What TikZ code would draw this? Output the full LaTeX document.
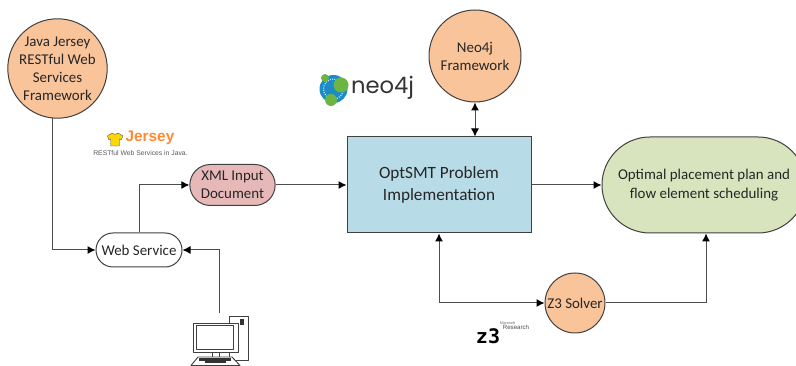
\documentclass[tikz,border=0pt]{standalone}
\usepackage{fontspec}
\setmainfont{Carlito}
\newfontfamily\arimo{Liberation Sans}
\newfontfamily\dejamono{DejaVu Sans Mono}
\newfontfamily\poppinsf{Poppins}
\usetikzlibrary{arrows.meta,shapes.geometric,shapes.misc}
\definecolor{peach}{HTML}{F9C49A}
\definecolor{pinkx}{HTML}{E6B9B8}
\definecolor{bluex}{HTML}{B7DBE7}
\definecolor{greenx}{HTML}{D7E4BD}
\definecolor{edge}{HTML}{404040}
\definecolor{txt}{HTML}{262626}
\definecolor{neoblue}{HTML}{1C8CC8}
\definecolor{neogreen}{HTML}{6CB544}
\definecolor{jerseyor}{HTML}{FF8A33}
\tikzset{
  x=0.75pt,y=-0.75pt,
  box/.style={draw=edge,line width=0.75pt,align=center,inner sep=0pt,text=txt,font=\fontsize{11.2}{13.5}\selectfont},
  circ/.style={box,circle,fill=peach},
  conn/.style={draw=black!70,line width=0.75pt,-{Latex[length=6pt,width=6pt,color=black]}},
  conn2/.style={draw=black!70,line width=0.75pt,{Latex[length=6pt,width=6pt,color=black]}-{Latex[length=6pt,width=6pt,color=black]}},
  pc/.style={draw=black!75,line width=0.7pt,line join=round}
}
\begin{document}
\begin{tikzpicture}
\useasboundingbox (0,0) rectangle (796,366);
\node[circ,minimum size=72.75pt] (java) at (57.5,68.5) {Java Jersey\\RESTful Web\\Services\\Framework};
\node[circ,minimum size=69pt] (neo) at (475,56) {Neo4j\\Framework};
\node[box,rounded rectangle,fill=pinkx,minimum width=64pt,minimum height=30.75pt] (xml) at (232.5,185) {XML Input\\Document};
\node[box,rectangle,fill=bluex,minimum width=138pt,minimum height=72pt,font=\fontsize{12.9}{16}\selectfont] (opt) at (439,185) {OptSMT Problem\\Implementation};
\node[box,rounded rectangle,fill=greenx,minimum width=153pt,minimum height=72pt,font=\fontsize{11.2}{14.25}\selectfont] (plan) at (704,185) {Optimal placement plan and\\flow element scheduling};
\node[box,rounded rectangle,fill=white,minimum width=64.5pt,minimum height=25.5pt] (web) at (139,250) {Web Service};
\node[circ,minimum size=45pt] (z3) at (575,303) {Z3 Solver};
\coordinate (pcout) at (219,313);
\draw[conn] (java.264) |- (web.west);
\draw[conn] (web.north) |- (xml.west);
\draw[conn] (xml.east) -- (opt.west);
\draw[conn] (opt.east) -- (plan.west);
\draw[conn2] (neo.south) -- (opt.north -| neo.south);
\draw[conn2] (opt.south) |- (z3.west);
\draw[conn] (z3.east) -| ([xshift=1.5pt]plan.south);
\draw[conn] (pcout) |- (web.east);
% computer
\draw[pc,fill=white] (229,316) rectangle (248,360);
\fill[black!80] (240,319) rectangle (244,325);
\draw[pc,fill=white] (193,323) rectangle (238,352);
\draw[pc] (196,325.5) rectangle (233.5,349);
\draw[pc] (212,352) -- (212,357) (219,352) -- (219,357) (229,352) -- (229,357);
\draw[pc,fill=white] (198,357) -- (232,357) -- (240,365.5) -- (191,365.5) -- cycle;
\fill[black!80] (199,358.5) rectangle (231,361);
\fill[black!80] (205,361) rectangle (226,363.5);
% jersey logo
\fill[yellow!75!orange,draw=black!70,line width=0.3pt] (107.5,136) -- (112,133) -- (115,134.5) -- (118,133) -- (123,136) -- (121,140) -- (119.5,139) -- (119.5,146) -- (110.5,146) -- (110.5,139) -- (109,140) -- cycle;
\node[inner sep=0pt,text=jerseyor,font=\arimo\bfseries\fontsize{11.5}{13}\selectfont] (jerseylogo) at (150,138) {Jersey};
\node[inner sep=0pt,text=black!65,font=\arimo\fontsize{5.1}{6}\selectfont] (jerseysub) at (140.5,153) {RESTful Web Services in Java.};
% neo4j logo
\fill[neoblue] (333.5,89) circle (14);
\draw[white,densely dotted,line width=0.7pt] (333.5,89) circle (10);
\fill[neogreen] (325,78) circle (4);
\fill[neogreen] (341,85) circle (7.5);
\fill[neogreen] (331,100) circle (6);
\node[inner sep=0pt,text=black!80,font=\poppinsf\fontsize{17}{20}\selectfont] (neologo) at (382.5,88) {neo4j};
% z3 logo
\node[inner sep=0pt,font=\dejamono\bfseries\fontsize{15}{17}\selectfont] (z3logo) at (488,336) {z3};
\node[inner sep=0pt,text=black!60,font=\arimo\fontsize{2.8}{3}\selectfont] (z3ms) at (507.5,323) {Microsoft};
\node[inner sep=0pt,text=black!70,font=\arimo\fontsize{4.6}{5}\selectfont] (z3sub) at (516,327.5) {Research};
\end{tikzpicture}
\end{document}
